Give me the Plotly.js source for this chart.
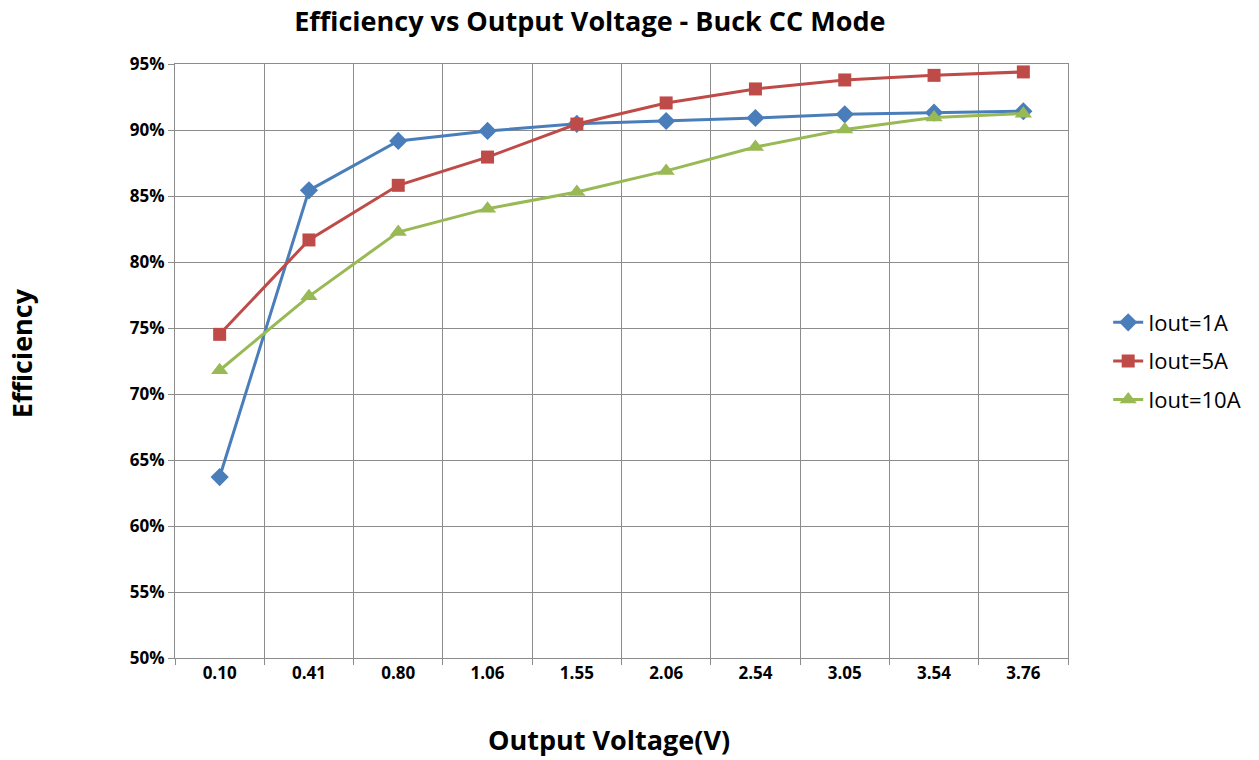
<!DOCTYPE html>
<html>
<head>
<meta charset="utf-8">
<script src="https://cdn.plot.ly/plotly-3.0.1.min.js"></script>
<style>html,body{margin:0;padding:0;background:#fff;}#chart{width:1259px;height:760px;}</style>
</head>
<body>
<div id="chart"></div>
<script>
const voltages = ["0.10", "0.41", "0.80", "1.06", "1.55", "2.06", "2.54", "3.05", "3.54", "3.76"];
const iout1A  = [0.6371, 0.8543, 0.8917, 0.8993, 0.9047, 0.9068, 0.9091, 0.9119, 0.9131, 0.9142];
const iout5A  = [0.7452, 0.8167, 0.8581, 0.8795, 0.9045, 0.9205, 0.9311, 0.9379, 0.9414, 0.9440];
const iout10A = [0.7180, 0.7740, 0.8227, 0.8404, 0.8530, 0.8690, 0.8871, 0.9003, 0.9094, 0.9124];
const seriesNames = ["Iout=1A", "Iout=5A", "Iout=10A"];
const yTicks = [0.50, 0.55, 0.60, 0.65, 0.70, 0.75, 0.80, 0.85, 0.90, 0.95];

const FONT = "'Open Sans', 'Noto Sans', sans-serif";
const colors = ["#4A7EBB", "#BE4B48", "#98B954"];
const symbols = ["diamond", "square", "triangle-up"];
const sizes = [14, 13, 15];
const data = [iout1A, iout5A, iout10A].map((ys, i) => ({
  type: "scatter", mode: "lines+markers",
  x: voltages, y: ys, name: seriesNames[i], legendgroup: "g" + i,
  line: {color: colors[i], width: 3},
  marker: {color: colors[i], symbol: symbols[i], size: sizes[i]}
}));

const layout = {
  width: 1259, height: 760,
  paper_bgcolor: "#fff", plot_bgcolor: "#fff",
  margin: {l: 175, r: 191, t: 64, b: 102},
  font: {family: FONT, color: "#000"},
  title: {text: "<b>Efficiency vs Output Voltage - Buck CC Mode</b>", font: {size: 27, family: FONT, color: "#000"},
          xref: "container", x: 0.4685, xanchor: "center", yref: "container", y: 0.971, yanchor: "middle"},
  xaxis: {type: "category", tickson: "boundaries", range: [-0.5, 9.5],
          showgrid: true, gridcolor: "#8C8C8C", gridwidth: 1,
          showline: true, linecolor: "#8C8C8C", linewidth: 1, mirror: true,
          ticks: "outside", ticklen: 6, tickcolor: "#8C8C8C",
          tickfont: {size: 17, family: FONT, color: "#000", weight: "bold"},
          zeroline: false},
  yaxis: {range: [0.50, 0.95], tickvals: yTicks, tickformat: ".0%",
          showgrid: true, gridcolor: "#8C8C8C", gridwidth: 1,
          showline: true, linecolor: "#8C8C8C", linewidth: 1, mirror: true,
          ticks: "outside", ticklen: 6, tickcolor: "#8C8C8C",
          tickfont: {size: 17, family: FONT, color: "#000", weight: "bold"},
          zeroline: false},
  showlegend: true,
  legend: {x: 1.045, xanchor: "left", y: 0.5, yanchor: "middle",
           font: {size: 22, family: FONT, color: "#000"}, tracegroupgap: 7,
           bgcolor: "rgba(0,0,0,0)"},
  annotations: [
    {text: "<b>Efficiency</b>", xref: "paper", yref: "paper", x: -0.1725, y: 0.513,
     xanchor: "center", yanchor: "middle", textangle: -90, showarrow: false,
     font: {size: 27, family: FONT, color: "#000"}},
    {text: "<b>Output Voltage(V)</b>", xref: "paper", yref: "paper", x: 0.4855, y: -0.137,
     xanchor: "center", yanchor: "middle", showarrow: false,
     font: {size: 27, family: FONT, color: "#000"}}
  ]
};
Plotly.newPlot("chart", data, layout, {displayModeBar: false, staticPlot: true});
</script>
</body>
</html>
